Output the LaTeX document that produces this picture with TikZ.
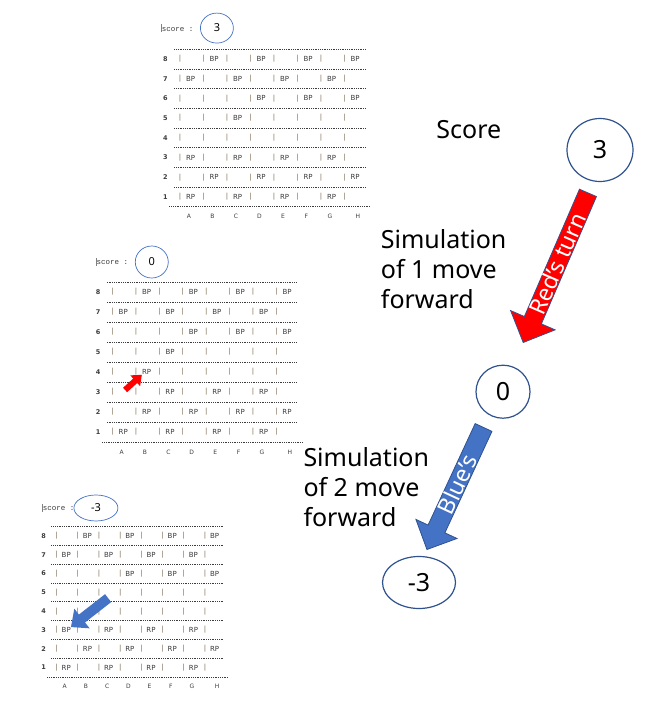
\documentclass[tikz,border=0pt]{standalone}
\usepackage{fontspec}
\setmainfont{Noto Sans}
\newfontfamily\boardfont{DejaVu Sans}
\newfontfamily\scorefont{Liberation Mono}
\usetikzlibrary{shapes.arrows,shapes.geometric,arrows.meta}

\definecolor{edgeblue}{RGB}{47,82,143}
\definecolor{fillblue}{RGB}{68,114,196}
\definecolor{barbrown}{RGB}{120,100,75}
\definecolor{inkgray}{RGB}{60,60,60}

\newcommand{\cursor}{\textcolor{gray}{\rule[-1pt]{0.4pt}{8pt}}}
\newcommand{\drawgrid}[1]{%
  \foreach \rw in {8,...,1} {
    \node[rowlabel] (#1-r\rw) at (-0.62, 8-\rw) {\rw};
    \foreach \cl in {1,...,8}
      \node[bar] (#1-b\cl\rw) at (\cl-1, 8-\rw) {|};
  }
  \foreach \y in {-0.5,0.5,...,6.5}
    \draw[dotline] (-0.25,\y) -- (7.9,\y);
  \draw[dotline] (-0.45,7.5) -- (8.1,7.5);
  \foreach \l/\x in {A/0.38,B/1.38,C/2.38,D/3.38,E/4.38,F/5.38,G/6.38,H/7.57}
    \node[collabel] (#1-\l) at (\x, 8) {\l};
}

\begin{document}
\begin{tikzpicture}[x=1pt, y=-1pt,
    rowlabel/.style={font=\boardfont\bfseries\fontsize{6.5}{7}\selectfont, text=inkgray, inner sep=0},
    bar/.style={font=\boardfont\fontsize{7}{8}\selectfont, text=barbrown, inner sep=0},
    piece/.style={font=\boardfont\fontsize{7}{8}\selectfont, text=inkgray, inner sep=0},
    collabel/.style={font=\boardfont\fontsize{6}{7}\selectfont, text=inkgray, inner sep=0},
    dotline/.style={inkgray, line width=0.7pt, dash pattern=on 1pt off 0.8pt},
    scorelabel/.style={font=\scorefont\fontsize{7.5}{8}\selectfont, text=inkgray, anchor=west, inner sep=0},
    scorering/.style={ellipse, draw=fillblue, line width=0.7pt, inner sep=0, font=\fontsize{11}{12}\selectfont},
    bigring/.style={ellipse, draw=edgeblue, line width=1.2pt, fill=white, inner sep=0, font=\fontsize{25}{30}\selectfont},
    caption/.style={font=\fontsize{25}{30}\selectfont, align=left, inner sep=0, anchor=west},
    bigarrow/.style={single arrow, shape border rotate=180, draw=edgeblue, line width=0.8pt,
      text=white, inner sep=0, single arrow tip angle=90, font=\fontsize{23}{28}\selectfont},
    movearrow/.style={line width=6pt, -{Triangle[width=14pt, length=9pt]}}]
  \useasboundingbox (0,0) rectangle (662,704);

  % board before the move
  \begin{scope}[shift={(180,59)}, xscale=23.5, yscale=19.7]
    \drawgrid{b1}
    \foreach \cl/\rw in {2/8,4/8,6/8,8/8,1/7,3/7,5/7,7/7,4/6,6/6,8/6,3/5}
      \node[piece] (b1-p\cl\rw) at (\cl-0.55, 8-\rw) {BP};
    \foreach \cl/\rw in {1/3,3/3,5/3,7/3,2/2,4/2,6/2,8/2,1/1,3/1,5/1,7/1}
      \node[piece] (b1-p\cl\rw) at (\cl-0.55, 8-\rw) {RP};
    \node[scorelabel] (b1-label) at (-0.8,-1.57) {\cursor score :};
    \node[scorering, minimum width=33pt, minimum height=30pt] (b1-score) at (1.57,-1.57) {3};
  \end{scope}

  % board after red moves
  \begin{scope}[shift={(112.7,292)}, xscale=23.4, yscale=20]
    \drawgrid{b2}
    \foreach \cl/\rw in {2/8,4/8,6/8,8/8,1/7,3/7,5/7,7/7,4/6,6/6,8/6,3/5}
      \node[piece] (b2-p\cl\rw) at (\cl-0.55, 8-\rw) {BP};
    \foreach \cl/\rw in {2/4,3/3,5/3,7/3,2/2,4/2,6/2,8/2,1/1,3/1,5/1,7/1}
      \node[piece] (b2-p\cl\rw) at (\cl-0.55, 8-\rw) {RP};
    \node[scorelabel] (b2-label) at (-0.71,-1.52) {\cursor score :};
    \node[scorering, minimum width=33pt, minimum height=32pt] (b2-score) at (1.67,-1.5) {0};
    \coordinate (b2-from) at (0.53,4.9);
    \draw[movearrow, red] (b2-from) -- (b2-p24.south west);
  \end{scope}

  % board after blue moves
  \begin{scope}[shift={(56.7,536)}, xscale=21.2, yscale=18.8]
    \drawgrid{b3}
    \foreach \cl/\rw in {2/8,4/8,6/8,8/8,1/7,3/7,5/7,7/7,4/6,6/6,8/6,1/3}
      \node[piece] (b3-p\cl\rw) at (\cl-0.55, 8-\rw) {BP};
    \foreach \cl/\rw in {3/3,5/3,7/3,2/2,4/2,6/2,8/2,1/1,3/1,5/1,7/1}
      \node[piece] (b3-p\cl\rw) at (\cl-0.55, 8-\rw) {RP};
    \node[scorelabel] (b3-label) at (-0.68,-1.49) {\cursor score :};
    \node[scorering, minimum width=44pt, minimum height=26pt] (b3-score) at (1.85,-1.49) {-3};
    \coordinate (b3-from) at (2.43,3.31);
    \draw[movearrow, fillblue, line width=10pt, -{Triangle[width=24pt, length=14pt]}] (b3-from) -- (b3-p13.north east);
  \end{scope}

  % score tree
  \node[caption, anchor=center] (scoretitle) at (468.8,130) {Score};
  \node[bigring, minimum width=66pt, minimum height=63pt] (c3) at (600,150) {3};
  \node[caption] (sim1) at (380.7,269.5) {Simulation\\of 1 move\\forward};
  \node[bigring, minimum width=54pt, minimum height=53pt] (c0) at (503,391.7) {0};
  \node[caption] (sim2) at (303.3,486.7) {Simulation\\of 2 move\\forward};
  \node[bigring, minimum width=73pt, minimum height=52pt] (cm3) at (419,582.5) {-3};

  \node[bigarrow, fill=red, rotate=66.6, anchor=tip, minimum height=163pt, minimum width=30pt,
    single arrow head extend=15pt] (redturn) at (523,343) {Red’s turn};
  \node[bigarrow, fill=fillblue, rotate=65.1, anchor=tip, minimum height=134.5pt, minimum width=25.6pt,
    single arrow head extend=13.4pt] (blueturn) at (426.7,550) {Blue’s};
\end{tikzpicture}
\end{document}
